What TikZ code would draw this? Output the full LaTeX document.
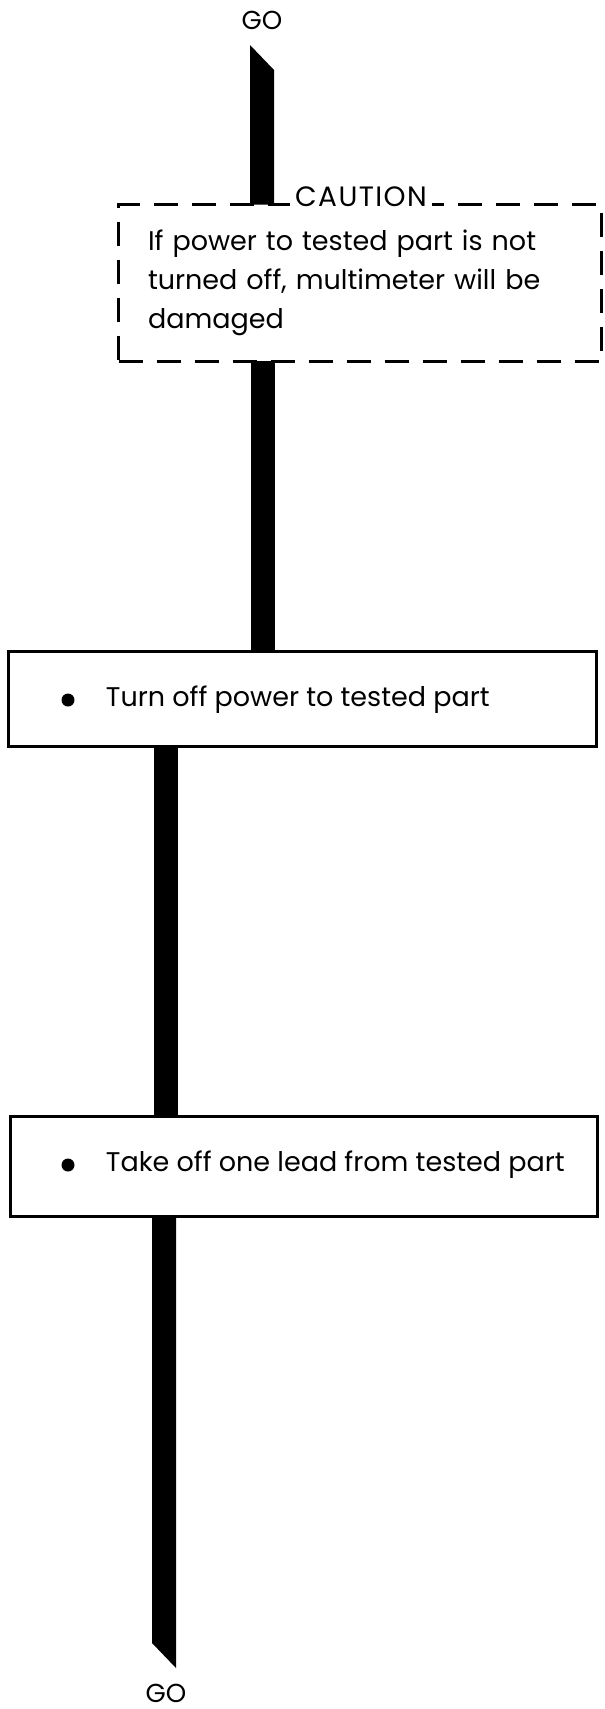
\documentclass[tikz,border=0pt]{standalone}
\usepackage{fontspec}
\setmainfont{Poppins}
\usetikzlibrary{positioning,calc}

\begin{document}
\begin{tikzpicture}[
  x=1pt, y=1pt,
  font=\fontsize{27}{39}\selectfont,
  stepbox/.style={
    draw=black,
    fill=white,
    line width=3pt,
    inner sep=0pt
  },
  cautionbox/.style={
    draw=black,
    fill=white,
    line width=2.6pt,
    dash pattern=on 24pt off 14pt,
    minimum width=483pt,
    minimum height=157pt,
    text width=424pt,
    inner xsep=29.5pt,
    align=left
  },
  dot/.style={circle, fill=black, inner sep=0pt, minimum size=13pt},
  steptext/.style={inner sep=0pt},
  golabel/.style={font=\fontsize{26}{30}\selectfont, inner sep=0pt},
  bar/.style={fill=black, draw=none},
  node distance=31pt
]
\useasboundingbox (0,0) rectangle (605,-1709);

% end labels
\node[golabel] (gotop) at (262,-20) {GO};
\node[golabel] (gobottom) at (166,-1693) {GO};

% caution
\node[cautionbox] (caution) at (360,-283)
  {If power to tested part is not\\
   turned off, multimeter will be\\
   damaged};
\node[fill=white, inner xsep=5pt, inner ysep=3pt, anchor=base,
  font=\fontsize{28}{30}\selectfont\addfontfeature{LetterSpace=5}] (cautionlabel)
  at (361,-206) {CAUTION};

% steps
\node[stepbox, minimum width=588pt, minimum height=95pt] (box1) at (302.5,-699) {};
\node[dot] (dot1) at (68,-700) {};
\node[steptext, right=of dot1] (text1) {Turn off power to tested part};

\node[stepbox, minimum width=587pt, minimum height=100pt] (box2) at (303.5,-1166.5) {};
\node[dot] (dot2) at (68,-1165) {};
\node[steptext, right=of dot2] (text2) {Take off one lead from tested part};

% flow bars
\coordinate (toptip) at (250,-45);
\coordinate (upper) at (263,0);
\coordinate (middle) at (166,0);
\coordinate (lowtip) at (152,-1643);

\fill[bar] (toptip) -- ++(24,-25) |- ($(caution.north -| toptip)+(0,-1.5)$) -- cycle;
\fill[bar] ($(caution.south -| upper)+(-12,1.5)$) rectangle ($(box1.north -| upper)+(12,0)$);
\fill[bar] ($(box1.south -| middle)+(-12,0)$) rectangle ($(box2.north -| middle)+(12,0)$);
\fill[bar] (box2.south -| lowtip) -- (lowtip) -- ++(24,-25) |- (box2.south -| lowtip) -- cycle;
\end{tikzpicture}
\end{document}
